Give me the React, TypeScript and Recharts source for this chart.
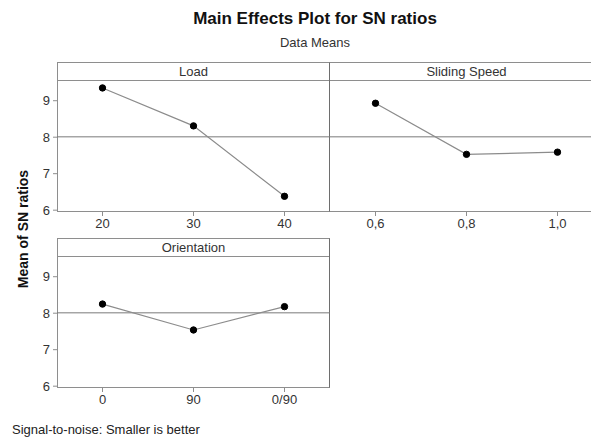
import React from 'react';
import { LineChart, Line, XAxis, YAxis, ReferenceLine } from 'recharts';

const loadLevels = ['20', '30', '40'];
const loadSN = [9.35, 8.31, 6.38];
const speedLevels = ['0,6', '0,8', '1,0'];
const speedSN = [8.93, 7.53, 7.59];
const orientationLevels = ['0', '90', '0/90'];
const orientationSN = [8.25, 7.54, 8.18];
const yTicks = [6, 7, 8, 9];
const overallMean = 8.01;
const yDomain: [number, number] = [5.95, 9.54];

const FONT = '"Liberation Sans", Arial, sans-serif';
const FRAME = '#8e8e8e';
const DIVIDER = '#6e6e6e';
const PW = 273;
const HEADER = 19;
const PH = 131;

type PanelProps = {
  left: number;
  top: number;
  title: string;
  levels: string[];
  values: number[];
  showY: boolean;
};

function Panel({ left, top, title, levels, values, showY }: PanelProps) {
  const data = levels.map((name, i) => ({ name, v: values[i] }));
  const yW = 30;
  const chartLeft = showY ? left - 57 : left;
  const chartW = showY ? PW + 57 : PW;
  return (
    <>
      <div
        style={{
          position: 'absolute',
          left,
          top,
          width: PW,
          height: HEADER + PH,
          borderTop: `1px solid ${FRAME}`,
          borderBottom: `1px solid ${FRAME}`,
          borderLeft: showY ? `1px solid ${FRAME}` : 'none',
          borderRight: showY ? `1px solid ${DIVIDER}` : 'none',
          boxSizing: 'border-box',
        }}
      >
        <div
          style={{
            height: HEADER - 1,
            borderBottom: `1px solid ${FRAME}`,
            boxSizing: 'border-box',
            textAlign: 'center',
            fontSize: 13,
            lineHeight: `${HEADER - 2}px`,
            color: '#333',
          }}
        >
          {title}
        </div>
      </div>
      <div style={{ position: 'absolute', left: chartLeft, top: top + HEADER, width: chartW, height: PH + 30 }}>
        <LineChart
          width={chartW}
          height={PH + 30}
          data={data}
          margin={{ top: 0, right: 0, bottom: 0, left: showY ? 57 - yW : 0 }}
        >
          <XAxis
            dataKey="name"
            type="category"
            interval={0}
            tickSize={4}
            tickMargin={3}
            tickLine={{ stroke: FRAME }}
            axisLine={false}
            height={30}
            padding={{ left: PW / 6, right: PW / 6 }}
            tick={{ fontSize: 13, fill: '#333', fontFamily: FONT }}
          />
          <YAxis
            hide={!showY}
            width={yW}
            type="number"
            domain={yDomain}
            ticks={yTicks}
            allowDataOverflow
            axisLine={false}
            tickSize={4}
            tickMargin={3}
            tickLine={{ stroke: FRAME }}
            tick={{ fontSize: 13, fill: '#333', fontFamily: FONT }}
          />
          <ReferenceLine y={overallMean} stroke="#7a7a7a" strokeWidth={1} ifOverflow="extendDomain" />
          <Line
            type="linear"
            dataKey="v"
            stroke="#8c8c8c"
            strokeWidth={1.2}
            isAnimationActive={false}
            dot={{ r: 3.2, fill: '#000', stroke: '#000', strokeWidth: 1 }}
          />
        </LineChart>
      </div>
    </>
  );
}

export default function App() {
  return (
    <div
      style={{
        position: 'absolute',
        left: 0,
        top: 0,
        width: 591,
        height: 440,
        overflow: 'hidden',
        background: '#fff',
        fontFamily: FONT,
      }}
    >
      <div
        style={{
          position: 'absolute',
          left: 0,
          width: 630,
          top: 9,
          textAlign: 'center',
          fontSize: 17,
          fontWeight: 'bold',
          color: '#111',
        }}
      >
        Main Effects Plot for SN ratios
      </div>
      <div
        style={{
          position: 'absolute',
          left: 0,
          width: 630,
          top: 35,
          textAlign: 'center',
          fontSize: 13,
          color: '#333',
        }}
      >
        Data Means
      </div>
      <div
        style={{
          position: 'absolute',
          left: 23,
          top: 229,
          transform: 'translate(-50%, -50%) rotate(-90deg)',
          whiteSpace: 'nowrap',
          fontSize: 14,
          fontWeight: 'bold',
          color: '#111',
        }}
      >
        Mean of SN ratios
      </div>
      <Panel left={57} top={62} title="Load" levels={loadLevels} values={loadSN} showY />
      <Panel left={330} top={62} title="Sliding Speed" levels={speedLevels} values={speedSN} showY={false} />
      <Panel left={57} top={238} title="Orientation" levels={orientationLevels} values={orientationSN} showY />
      <div
        style={{
          position: 'absolute',
          left: 12,
          top: 422,
          fontSize: 13,
          color: '#222',
          whiteSpace: 'nowrap',
        }}
      >
        Signal-to-noise: Smaller is better
      </div>
    </div>
  );
}
